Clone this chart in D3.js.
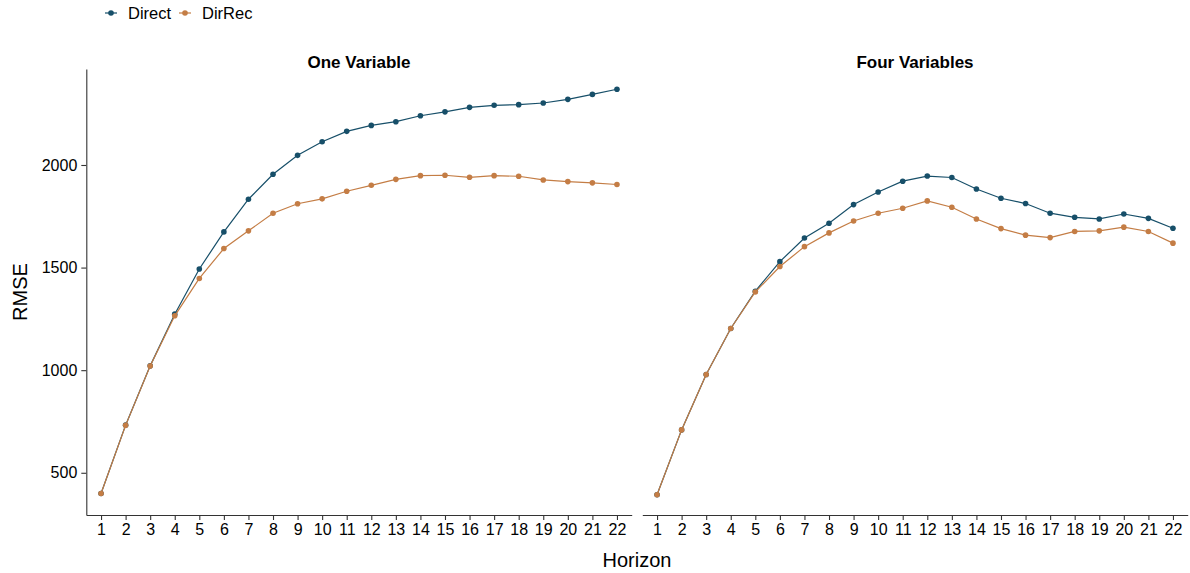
<!DOCTYPE html>
<html>
<head>
<meta charset="utf-8">
<script src="https://cdn.jsdelivr.net/npm/d3@7"></script>
<style>
  body { margin: 0; background: #fff; }
  svg { display: block; font-family: "Liberation Sans", Arial, sans-serif; }
</style>
</head>
<body>
<svg id="chart" width="1190" height="573"></svg>
<script>
// Forecast horizons (x categories)
const horizons = d3.range(1, 23);
const panelTitles = ['One Variable', 'Four Variables'];
const seriesNames = ['Direct', 'DirRec'];
const seriesColors = ['#174f69', '#c47d45'];
const yTicks = [500, 1000, 1500, 2000];

// RMSE
const oneDirect = [399, 732, 1021, 1273, 1493, 1674, 1833, 1955, 2047, 2113, 2164,
  2193, 2211, 2240, 2259, 2281, 2291, 2294, 2302, 2320, 2344, 2369];
const oneDirRec = [399, 731, 1020, 1265, 1447, 1593, 1679, 1765, 1811, 1835, 1872,
  1901, 1930, 1948, 1950, 1940, 1948, 1945, 1927, 1919, 1913, 1905];
const fourDirect = [393, 709, 979, 1203, 1385, 1529, 1644, 1716, 1807, 1868, 1921,
  1946, 1939, 1883, 1838, 1812, 1765, 1745, 1737, 1761, 1740, 1692];
const fourDirRec = [393, 709, 979, 1203, 1381, 1505, 1602, 1669, 1727, 1765, 1789,
  1825, 1794, 1737, 1690, 1658, 1646, 1676, 1679, 1697, 1676, 1619];

const panels = [
  { title: panelTitles[0], series: [oneDirect, oneDirRec], x0: 86.3, x1: 631.7, yAxis: true },
  { title: panelTitles[1], series: [fourDirect, fourDirRec], x0: 642.3, x1: 1187.7, yAxis: false }
];

const svg = d3.select('#chart');
const plotTop = 69, plotBottom = 515;
const axisColor = '#333';

// shared y scale, ggplot-style 5% expansion
const allVals = [].concat(oneDirect, oneDirRec, fourDirect, fourDirRec);
const [vMin, vMax] = d3.extent(allVals);
const pad = (vMax - vMin) * 0.05;
const y = d3.scaleLinear().domain([vMin - pad, vMax + pad]).range([plotBottom, plotTop]);

panels.forEach(p => {
  // discrete x axis with 0.6 expansion each side
  const x = d3.scaleLinear().domain([0.4, 22.6]).range([p.x0, p.x1]);
  const g = svg.append('g');

  // x axis
  const xAxis = g.append('g')
    .attr('transform', `translate(0,${plotBottom})`)
    .call(d3.axisBottom(x).tickValues(horizons).tickFormat(d3.format('d'))
      .tickSizeOuter(0).tickSizeInner(5).tickPadding(4));
  xAxis.select('.domain').attr('stroke', axisColor).attr('stroke-width', 1.1);
  xAxis.selectAll('.tick line').attr('stroke', axisColor).attr('stroke-width', 1.1);
  xAxis.selectAll('.tick text').attr('fill', '#000').style('font-size', '16px');

  // y axis only on the left panel
  if (p.yAxis) {
    const yAxis = g.append('g')
      .attr('transform', `translate(${p.x0},0)`)
      .call(d3.axisLeft(y).tickValues(yTicks).tickFormat(d3.format('d'))
        .tickSizeOuter(0).tickSizeInner(5).tickPadding(4));
    yAxis.select('.domain').attr('stroke', axisColor).attr('stroke-width', 1.1);
    yAxis.selectAll('.tick line').attr('stroke', axisColor).attr('stroke-width', 1.1);
    yAxis.selectAll('.tick text').attr('fill', '#000').style('font-size', '16px');
  }

  // strip title
  g.append('text')
    .attr('x', (p.x0 + p.x1) / 2)
    .attr('y', 68)
    .attr('text-anchor', 'middle')
    .style('font-size', '17px')
    .style('font-weight', 'bold')
    .text(p.title);

  const line = d3.line()
    .x((d, i) => x(horizons[i]))
    .y(d => y(d));

  p.series.forEach((vals, si) => {
    g.append('path')
      .datum(vals)
      .attr('fill', 'none')
      .attr('stroke', seriesColors[si])
      .attr('stroke-width', 1.2)
      .attr('d', line);
    g.selectAll(null)
      .data(vals)
      .enter().append('circle')
      .attr('cx', (d, i) => x(horizons[i]))
      .attr('cy', d => y(d))
      .attr('r', 2.8)
      .attr('fill', seriesColors[si]);
  });
});

// axis titles
svg.append('text')
  .attr('x', 637)
  .attr('y', 567)
  .attr('text-anchor', 'middle')
  .style('font-size', '20px')
  .text('Horizon');

svg.append('text')
  .attr('transform', 'translate(27,292) rotate(-90)')
  .attr('text-anchor', 'middle')
  .style('font-size', '20px')
  .text('RMSE');

// legend
const legendX = [103, 177];
seriesNames.forEach((name, i) => {
  const lg = svg.append('g').attr('transform', `translate(${legendX[i]},13)`);
  lg.append('line')
    .attr('x1', 2).attr('x2', 14)
    .attr('stroke', seriesColors[i]).attr('stroke-width', 1.2);
  lg.append('circle').attr('cx', 8).attr('r', 2.8).attr('fill', seriesColors[i]);
  lg.append('text')
    .attr('x', 25)
    .attr('y', 6)
    .style('font-size', '16.5px')
    .text(name);
});
</script>
</body>
</html>
